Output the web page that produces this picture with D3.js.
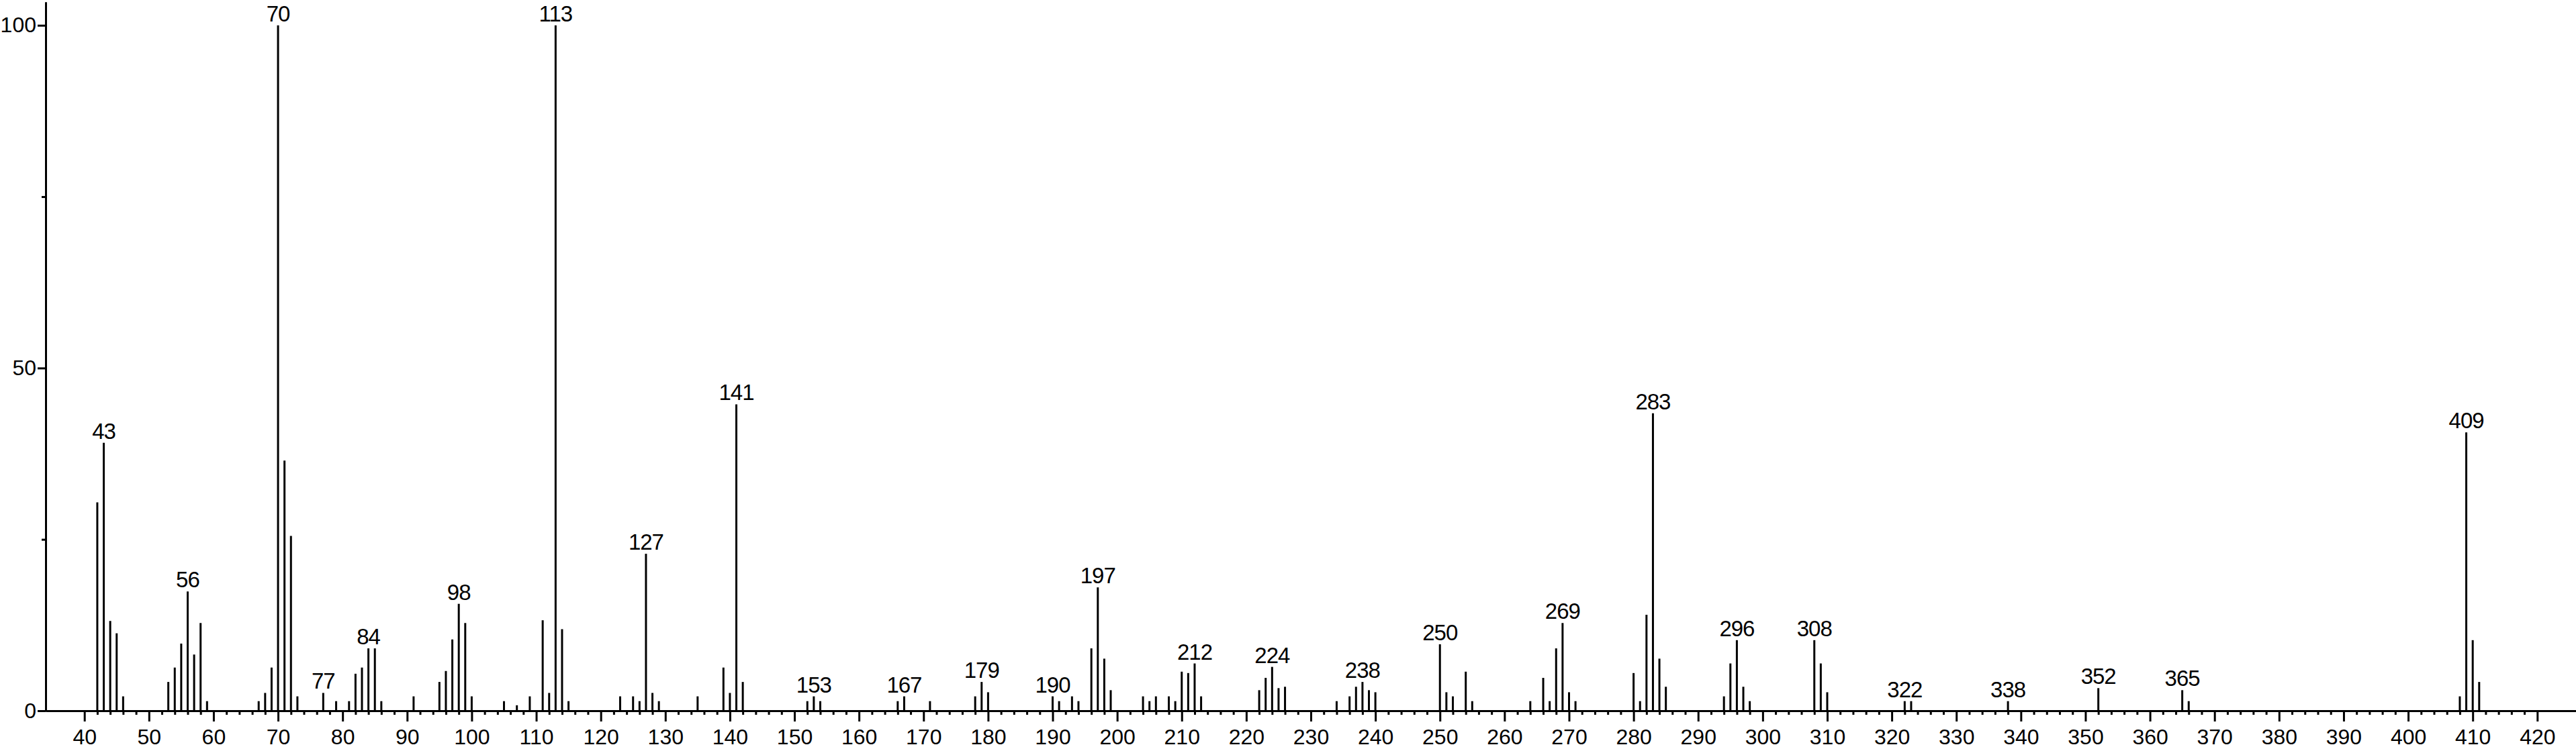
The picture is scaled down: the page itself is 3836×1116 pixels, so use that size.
<!DOCTYPE html>
<meta charset="utf-8">
<style>
body { margin: 0; background: #fff; }
svg { display: block; }
.bars line { stroke: #000; stroke-width: 3px; }
.axis path, .axis line { stroke: #000; stroke-width: 3px; }
.axis text, .peaks text { font-family: "Liberation Sans", Arial, sans-serif; fill: #000; }
.axis text { font-size: 32px; }
.peaks text { font-size: 33px; letter-spacing: -1px; }
</style>
<svg id="ms" width="3836" height="1116"></svg>
<script src="https://cdn.jsdelivr.net/npm/d3@7/dist/d3.min.js"></script>
<script>
// m/z values and relative intensities (%)
var mz = [42, 43, 44, 45, 46, 53, 54, 55, 56, 57, 58, 59, 67, 68, 69, 70, 71, 72, 73, 77, 79, 81, 82, 83, 84, 85, 86,
  91, 95, 96, 97, 98, 99, 100, 105, 107, 109, 111, 112, 113, 114, 115, 123, 125, 126, 127, 128, 129, 135,
  139, 140, 141, 142, 152, 153, 154, 166, 167, 171, 178, 179, 180, 190, 191, 193, 194, 196, 197, 198, 199,
  204, 205, 206, 208, 209, 210, 211, 212, 213, 222, 223, 224, 225, 226, 234, 236, 237, 238, 239, 240,
  250, 251, 252, 254, 255, 264, 266, 267, 268, 269, 270, 271, 280, 281, 282, 283, 284, 285,
  294, 295, 296, 297, 298, 308, 309, 310, 322, 323, 338, 352, 365, 366, 408, 409, 410, 411];
var intensity = [30.4, 39.1, 13.1, 11.3, 2.1, 4.2, 6.3, 9.8, 17.4, 8.2, 12.8, 1.4, 1.4, 2.6, 6.3, 100, 36.5, 25.5, 2.1, 2.6, 1.4, 1.4, 5.4, 6.3, 9.1, 9.1, 1.4,
  2.1, 4.2, 5.8, 10.4, 15.6, 12.8, 2.1, 1.4, 0.8, 2.1, 13.2, 2.6, 100, 11.9, 1.4, 2.1, 2.1, 1.4, 22.9, 2.6, 1.4, 2.1,
  6.3, 2.6, 44.7, 4.2, 1.4, 2.1, 1.4, 1.4, 2.1, 1.4, 2.1, 4.2, 2.7, 2.1, 1.4, 2.1, 1.4, 9.1, 18.0, 7.6, 3.0,
  2.1, 1.4, 2.1, 2.1, 1.4, 5.7, 5.5, 6.9, 2.1, 3.0, 4.8, 6.4, 3.3, 3.5, 1.4, 2.1, 3.5, 4.2, 3.0, 2.7,
  9.7, 2.7, 2.1, 5.7, 1.4, 1.4, 4.8, 1.4, 9.1, 12.8, 2.7, 1.4, 5.5, 1.4, 14.0, 43.4, 7.6, 3.5,
  2.1, 6.9, 10.3, 3.5, 1.4, 10.3, 6.9, 2.7, 1.4, 1.4, 1.4, 3.3, 3.0, 1.4, 2.1, 40.6, 10.3, 4.2];
// peaks that carry a label
var labelled = [43, 56, 70, 77, 84, 98, 113, 127, 141, 153, 167, 179, 190, 197, 212, 224, 238, 250, 269, 283,
  296, 308, 322, 338, 352, 365, 409];
var xMajor = [40, 50, 60, 70, 80, 90, 100, 110, 120, 130, 140, 150, 160, 170, 180, 190, 200, 210, 220, 230,
  240, 250, 260, 270, 280, 290, 300, 310, 320, 330, 340, 350, 360, 370, 380, 390, 400, 410, 420];
var yMajor = [0, 50, 100];
var yMinor = [25, 75];

var svg = d3.select("#ms");

var x = d3.scaleLinear().domain([34, 426]).range([68, 3836]);
var y = d3.scaleLinear().domain([0, 103.4]).range([1059, 3]);

var peaks = mz.map(function(m, i) { return {mz: m, v: intensity[i]}; });

// minor ticks every 2 between the labelled ones
var xMinor = [];
for (var t = 40; t <= 420; t += 2) if (t % 10 != 0) xMinor.push(t);

svg.append("g")
    .attr("class", "bars")
  .selectAll("line")
  .data(peaks)
  .enter().append("line")
    .attr("x1", function(d) { return x(d.mz); })
    .attr("x2", function(d) { return x(d.mz); })
    .attr("y1", y(0))
    .attr("y2", function(d) { return y(d.v); });

svg.append("g")
    .attr("class", "axis")
    .attr("transform", "translate(0," + y(0) + ")")
    .call(d3.axisBottom(x).tickValues(xMinor).tickSize(6).tickSizeOuter(0).tickFormat(""));

svg.append("g")
    .attr("class", "axis")
    .attr("transform", "translate(0," + y(0) + ")")
    .call(d3.axisBottom(x).tickValues(xMajor).tickSize(16).tickSizeOuter(0).tickPadding(11).tickFormat(d3.format("d")));

svg.append("g")
    .attr("class", "axis")
    .attr("transform", "translate(" + x(34) + ",0)")
    .call(d3.axisLeft(y).tickValues(yMinor).tickSize(6).tickSizeOuter(0).tickFormat(""));

svg.append("g")
    .attr("class", "axis")
    .attr("transform", "translate(" + x(34) + ",0)")
    .call(d3.axisLeft(y).tickValues(yMajor).tickSize(12).tickSizeOuter(0).tickPadding(2).tickFormat(d3.format("d")));

svg.selectAll(".axis text")
    .attr("font-family", null)
    .attr("font-size", null);

svg.append("g")
    .attr("class", "peaks")
  .selectAll("text")
  .data(peaks.filter(function(d) { return labelled.indexOf(d.mz) >= 0; }))
  .enter().append("text")
    .attr("x", function(d) { return x(d.mz); })
    .attr("y", function(d) { return y(d.v) - 6; })
    .attr("text-anchor", "middle")
    .text(function(d) { return d.mz; });
</script>
